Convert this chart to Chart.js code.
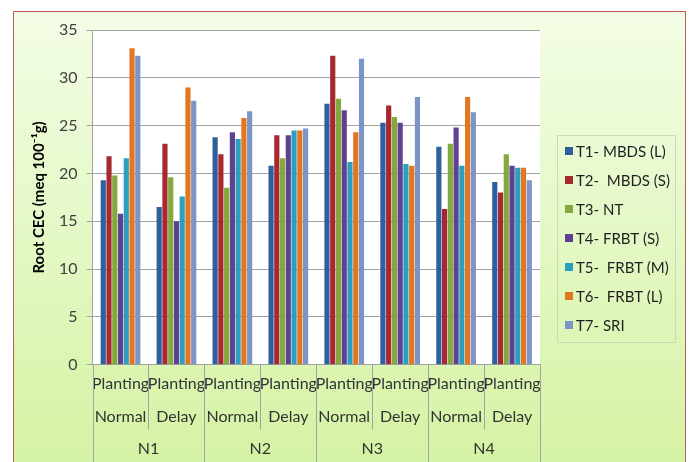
<!DOCTYPE html>
<html>
<head>
<meta charset="utf-8">
<script src="https://cdn.jsdelivr.net/npm/chart.js@4.4.0/dist/chart.umd.min.js"></script>
<style>
  html, body { margin: 0; padding: 0; background: #fff; }
</style>
</head>
<body>
<canvas id="grafico" width="689" height="462"></canvas>
<script>
// Categorias (eixo x em dois niveis)
const grupos = ['N1', 'N2', 'N3', 'N4'];
const categorias = [
  ['Planting', 'Normal'], ['Planting', 'Delay'],
  ['Planting', 'Normal'], ['Planting', 'Delay'],
  ['Planting', 'Normal'], ['Planting', 'Delay'],
  ['Planting', 'Normal'], ['Planting', 'Delay']
];

// Series
const nomes = ['T1- MBDS (L)', 'T2-  MBDS (S)', 'T3- NT', 'T4- FRBT (S)', 'T5-  FRBT (M)', 'T6-  FRBT (L)', 'T7- SRI'];
const t1 = [19.3, 16.5, 23.8, 20.8, 27.3, 25.3, 22.8, 19.1];
const t2 = [21.8, 23.1, 22.0, 24.0, 32.3, 27.1, 16.3, 18.0];
const t3 = [19.8, 19.6, 18.5, 21.6, 27.8, 25.9, 23.1, 22.0];
const t4 = [15.8, 15.0, 24.3, 24.0, 26.6, 25.3, 24.8, 20.8];
const t5 = [21.6, 17.6, 23.6, 24.5, 21.2, 21.0, 20.8, 20.6];
const t6 = [33.1, 29.0, 25.8, 24.5, 24.3, 20.8, 28.0, 20.6];
const t7 = [32.3, 27.6, 26.5, 24.7, 32.0, 28.0, 26.4, 19.3];
const cores = ['#305f9e', '#a5292e', '#83a93c', '#60418f', '#2b9fc0', '#e4761f', '#7b95c6'];

// Eixo y
const yMin = 0, yMax = 35, yPasso = 5;

Chart.defaults.font.family = 'Lato';

// Fundo verde com moldura e area do grafico branca
const fundo = {
  id: 'fundo',
  beforeDraw(chart) {
    const { ctx, chartArea: a, width, height } = chart;
    ctx.save();
    ctx.fillStyle = '#fff';
    ctx.fillRect(0, 0, width, height);
    const g = ctx.createLinearGradient(0, 11, 0, height);
    g.addColorStop(0, '#f3fde6');
    g.addColorStop(1, '#d5f3a4');
    ctx.fillStyle = g;
    ctx.fillRect(13, 11, 673, height);
    ctx.strokeStyle = '#c45a5a';
    ctx.lineWidth = 1;
    ctx.strokeRect(13.5, 11.5, 672, height);
    ctx.fillStyle = '#fff';
    ctx.fillRect(a.left, a.top, a.right - a.left, a.bottom - a.top);
    ctx.restore();
  }
};

// Linhas verticais entre as categorias, por baixo do eixo
const separadores = {
  id: 'separadores',
  afterDraw(chart) {
    const { ctx } = chart;
    const x = chart.scales.x;
    const w = x.getPixelForValue(1) - x.getPixelForValue(0);
    ctx.save();
    ctx.strokeStyle = '#a3a3a3';
    ctx.lineWidth = 1;
    for (let i = 0; i <= categorias.length; i++) {
      const px = Math.round(x.getPixelForValue(0) - w / 2 + i * w) + 0.5;
      const fim = i % 2 === 0 ? chart.height : x.bottom - 6;
      ctx.beginPath();
      ctx.moveTo(px, x.top);
      ctx.lineTo(px, fim);
      ctx.stroke();
    }
    ctx.restore();
  }
};

// Legenda com caixa, a direita
const legenda = {
  id: 'legenda',
  afterDraw(chart) {
    const { ctx, chartArea: a } = chart;
    const esq = a.right + 17, topo = 135, larg = 118, passo = 29;
    ctx.save();
    ctx.strokeStyle = '#cdd8b8';
    ctx.lineWidth = 1;
    ctx.strokeRect(esq + 0.5, topo + 0.5, larg, 207);
    ctx.font = '15px Lato';
    ctx.textBaseline = 'middle';
    chart.data.datasets.forEach((ds, i) => {
      const cy = topo + 16 + i * passo;
      ctx.fillStyle = ds.backgroundColor;
      ctx.fillRect(esq + 8, cy - 4, 8, 8);
      ctx.fillStyle = '#1f1f1f';
      ctx.fillText(ds.label, esq + 19, cy + 1);
    });
    ctx.restore();
  }
};

const series = [t1, t2, t3, t4, t5, t6, t7];

new Chart(document.getElementById('grafico'), {
  type: 'bar',
  data: {
    labels: categorias,
    datasets: series.map((s, i) => ({
      label: nomes[i],
      data: s,
      backgroundColor: cores[i],
      borderWidth: 0,
      categoryPercentage: 0.72,
      barPercentage: 0.9
    }))
  },
  options: {
    responsive: false,
    animation: false,
    devicePixelRatio: 1,
    layout: { padding: { left: 25, top: 30, right: 149, bottom: 1 } },
    plugins: {
      legend: { display: false },
      tooltip: { enabled: false }
    },
    scales: {
      x: {
        offset: true,
        grid: { display: false, drawTicks: false },
        border: { display: true, color: '#a3a3a3' },
        ticks: {
          autoSkip: false,
          maxRotation: 0,
          padding: 2.5,
          color: '#333',
          font: { size: 16, lineHeight: 33 / 16 }
        }
      },
      x2: {
        type: 'category',
        labels: grupos,
        position: 'bottom',
        offset: true,
        weight: 1,
        grid: { display: false, drawTicks: false },
        border: { display: false },
        ticks: { padding: 3, color: '#333', font: { size: 16 } }
      },
      y: {
        min: yMin,
        max: yMax,
        ticks: { stepSize: yPasso, padding: 9, color: '#404040', font: { size: 16 } },
        grid: { color: '#a3a3a3', tickLength: 6 },
        border: { color: '#a3a3a3' },
        title: {
          display: true,
          text: 'Root CEC (meq 100⁻¹g)',
          color: '#000',
          padding: { top: 5, bottom: 2 },
          font: { size: 15, weight: 'bold' }
        }
      }
    }
  },
  plugins: [fundo, separadores, legenda]
});
</script>
</body>
</html>
